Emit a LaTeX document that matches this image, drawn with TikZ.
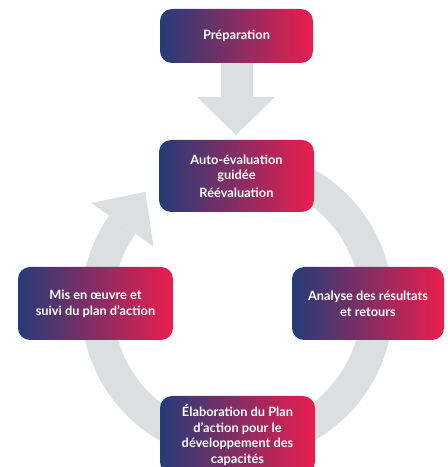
\documentclass[tikz,border=0pt]{standalone}
\usepackage{fontspec}
\setmainfont{Lato}
\usetikzlibrary{calc}
\definecolor{cblue}{RGB}{36,60,120}
\definecolor{cred}{RGB}{234,30,78}
\definecolor{cgray}{RGB}{220,223,226}
\tikzset{
  stepbox/.style={rounded corners=12pt, left color=cblue, right color=cred,
    text=white, align=center, inner sep=0pt,
    font=\bfseries\fontsize{12.8}{15.7}\selectfont},
}
\begin{document}
\begin{tikzpicture}[x=1pt,y=1pt]
\useasboundingbox (0,0) rectangle (448,467);
\clip (0,0) rectangle (448,467);
\coordinate (c) at (237,162);
% ring
\fill[cgray] ($(c)+(90:156)$) arc[start angle=90,end angle=-215,radius=156]
  -- ($(c)+(145:124)$) arc[start angle=-215,end angle=90,radius=124] -- cycle;
\coordinate (hb1) at ($(c)+(145:178)$);
\coordinate (hb2) at ($(c)+(145:102)$);
\coordinate (ht) at ($(c)+(145:140)+(55:40)$);
\fill[cgray] (hb1) -- (ht) -- (hb2) -- cycle;
% down arrow
\coordinate (a1) at (221,417);
\coordinate (a2) at (253,417);
\coordinate (a3) at (253,370);
\coordinate (a4) at (275,370);
\coordinate (a5) at (236,332);
\coordinate (a6) at (197,370);
\coordinate (a7) at (221,370);
\fill[cgray] (a1) -- (a2) -- (a3) -- (a4) -- (a5) -- (a6) -- (a7) -- cycle;
% boxes
\node[stepbox, minimum width=153, minimum height=54] (prep) at (236.5,431) {Préparation};
\node[stepbox, minimum width=155, minimum height=72] (auto) at (236.5,291) {Auto-évaluation\\guidée\\[2pt]Réévaluation};
\node[stepbox, minimum width=155, minimum height=73] (mis) at (95.5,163.5) {Mis en œuvre et\\suivi du plan d’action};
\node[stepbox, minimum width=152, minimum height=73] (ana) at (368,163.5) {Analyse des résultats\\et retours};
\node[stepbox, minimum width=155, minimum height=78] (elab) at (237.5,32) {Élaboration du Plan\\d’action pour le\\développement des\\capacités};
\end{tikzpicture}
\end{document}
